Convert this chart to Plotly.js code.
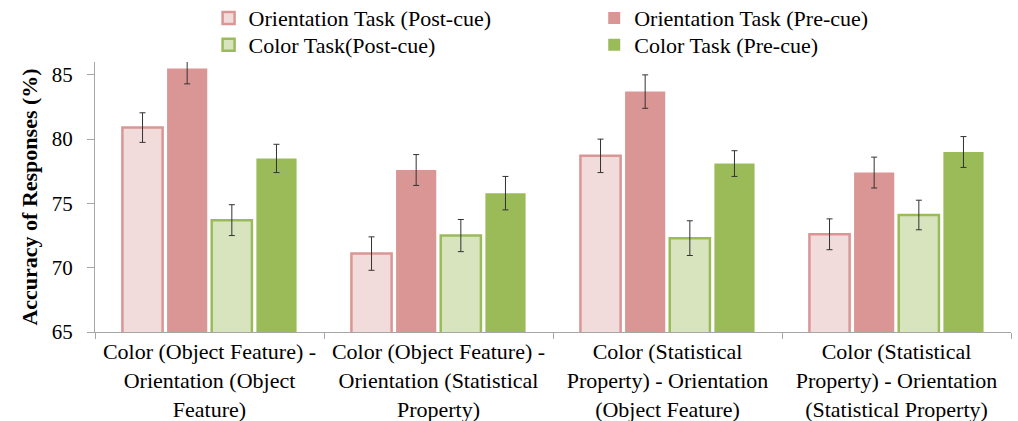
<!DOCTYPE html>
<html><head><meta charset="utf-8">
<script src="https://cdn.plot.ly/plotly-3.0.1.min.js"></script>
<style>body{margin:0;padding:0;background:#fff}#chart{width:1018px;height:421px}</style>
</head><body><div id="chart"></div>
<script>
const categories = [
  "Color (Object Feature) -<br>Orientation (Object<br>Feature)",
  "Color (Object Feature) -<br>Orientation (Statistical<br>Property)",
  "Color (Statistical<br>Property) - Orientation<br>(Object Feature)",
  "Color (Statistical<br>Property) - Orientation<br>(Statistical Property)"
];
const orientPost = [80.9, 71.1, 78.7, 72.6];
const orientPostErr = [1.15, 1.3, 1.3, 1.2];
const orientPre = [85.5, 77.6, 83.7, 77.4];
const orientPreErr = [1.2, 1.2, 1.3, 1.2];
const colorPost = [73.7, 72.5, 72.3, 74.1];
const colorPostErr = [1.2, 1.25, 1.35, 1.15];
const colorPre = [78.5, 75.8, 78.1, 79.0];
const colorPreErr = [1.1, 1.3, 1.0, 1.2];

const errStyle = (arr) => ({type:'data', array:arr, visible:true, color:'#333', thickness:1, width:3});
const traces = [
  {name:'Orientation Task (Post-cue)', x:categories, y:orientPost, type:'bar', legend:'legend',
   marker:{color:'#F2DCDB', line:{color:'#D99694', width:2.5}}, error_y:errStyle(orientPostErr)},
  {name:'Orientation Task (Pre-cue)', x:categories, y:orientPre, type:'bar', legend:'legend2',
   marker:{color:'#D99694', line:{color:'#D99694', width:0}}, error_y:errStyle(orientPreErr)},
  {name:'Color Task(Post-cue)', x:categories, y:colorPost, type:'bar', legend:'legend3',
   marker:{color:'#D7E4BD', line:{color:'#9BBB59', width:2.5}}, error_y:errStyle(colorPostErr)},
  {name:'Color Task (Pre-cue)', x:categories, y:colorPre, type:'bar', legend:'legend4',
   marker:{color:'#9BBB59', line:{color:'#9BBB59', width:0}}, error_y:errStyle(colorPreErr)}
];
const legStyle = (xp, yp) => ({orientation:'v', x:xp, xanchor:'left', y:yp, yanchor:'middle',
    yref:'container', bgcolor:'rgba(0,0,0,0)', font:{size:22}, itemwidth:30});
const layout = {
  width:1018, height:421,
  margin:{l:95, r:7, t:62, b:89, autoexpand:false},
  paper_bgcolor:'#fff', plot_bgcolor:'#fff',
  font:{family:'Liberation Serif, Times New Roman, serif', size:20, color:'#000'},
  barmode:'group', bargap:0.22, bargroupgap:0.1,
  showlegend:true,
  legend: legStyle(0.124, 0.957),
  legend2: legStyle(0.545, 0.957),
  legend3: legStyle(0.124, 0.893),
  legend4: legStyle(0.545, 0.893),
  xaxis:{type:'category', showline:true, linecolor:'#A6A6A6', linewidth:1,
    ticks:'outside', tickson:'boundaries', ticklen:6, tickcolor:'#A6A6A6',
    tickfont:{size:22}, showgrid:false},
  yaxis:{range:[65,86], tickvals:[65,70,75,80,85], showline:true, linecolor:'#A6A6A6',
    linewidth:1, ticks:'outside', ticklen:7, tickcolor:'#A6A6A6', showgrid:false, zeroline:false,
    tickfont:{size:21}, ticklabelstandoff:10,
    title:{text:'<b>Accuracy of Responses (%)</b>', font:{size:22}, standoff:8}}
};
Plotly.newPlot('chart', traces, layout, {displayModeBar:false, staticPlot:true});
</script></body></html>
